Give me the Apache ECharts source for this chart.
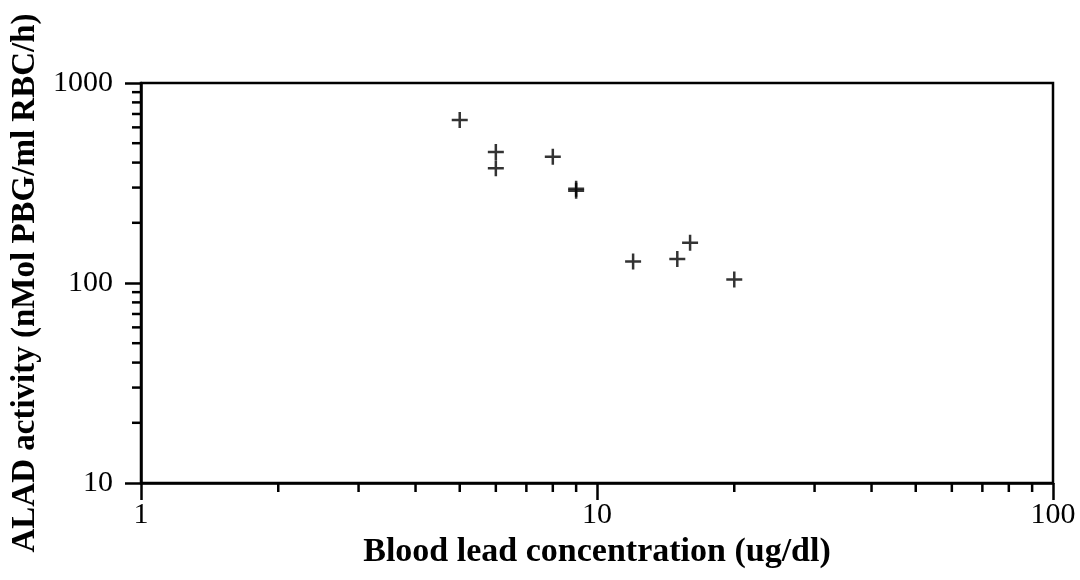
<!DOCTYPE html>
<html>
<head>
<meta charset="utf-8">
<script src="https://cdn.jsdelivr.net/npm/echarts@6/dist/echarts.min.js"></script>
<style>
  html, body { margin: 0; padding: 0; background: #fff; }
  #chart { width: 1080px; height: 580px; }
</style>
</head>
<body>
<div id="chart"></div>
<script>
// blood lead (ug/dl) vs ALAD activity
const leadValues = [5, 6, 6, 8, 9, 9, 12, 15, 16, 20];
const aladValues = [653, 452, 375, 428, 296, 289, 128, 132, 159, 104];

const xMinorTicks = [2, 3, 4, 5, 6, 7, 8, 9, 20, 30, 40, 50, 60, 70, 80, 90];
const yMinorTicks = [20, 30, 40, 50, 60, 70, 80, 90, 200, 300, 400, 500, 600, 700, 800, 900];

const serif = '"Liberation Serif", "DejaVu Serif", serif';
const plusPath = 'path://M6.75,0h2.5v6.75h6.75v2.5h-6.75v6.75h-2.5v-6.75h-6.75v-2.5h6.75z';

const chart = echarts.init(document.getElementById('chart'), null, { renderer: 'canvas' });

const option = {
  animation: false,
  backgroundColor: '#fff',
  grid: {
    left: 141, right: 27, top: 83, bottom: 97,
    show: true, borderColor: '#000', borderWidth: 2.5
  },
  xAxis: {
    type: 'log', logBase: 10, min: 1, max: 100,
    name: 'Blood lead concentration (ug/dl)',
    nameLocation: 'middle', nameGap: 44,
    nameTextStyle: { fontFamily: serif, fontWeight: 'bold', fontSize: 34, color: '#000' },
    axisLine: { lineStyle: { color: '#000', width: 2.5 } },
    axisTick: { inside: false, length: 17, lineStyle: { color: '#000', width: 2.5 } },
    axisLabel: { margin: 17, fontFamily: serif, fontSize: 30, color: '#000', formatter: v => String(v) },
    splitLine: { show: false }
  },
  yAxis: {
    type: 'log', logBase: 10, min: 10, max: 1000,
    name: 'ALAD activity (nMol PBG/ml RBC/h)',
    nameLocation: 'middle', nameGap: 94,
    nameTextStyle: { fontFamily: serif, fontWeight: 'bold', fontSize: 33, color: '#000' },
    axisLine: { lineStyle: { color: '#000', width: 2.5 } },
    axisTick: { inside: false, length: 16, lineStyle: { color: '#000', width: 2.5 } },
    axisLabel: { margin: 28, fontFamily: serif, fontSize: 30, color: '#000', formatter: v => String(v) },
    splitLine: { show: false }
  },
  series: [
    {
      type: 'scatter',
      data: leadValues.map((x, i) => [x, aladValues[i]]),
      symbol: plusPath,
      symbolSize: 16,
      itemStyle: { color: '#000' },
      z: 5
    },
    {
      // minor ticks along the x axis
      type: 'custom',
      coordinateSystem: 'cartesian2d',
      clip: false,
      silent: true,
      data: xMinorTicks.map(v => [v, 10]),
      renderItem: (params, api) => {
        const p = api.coord([api.value(0), api.value(1)]);
        return {
          type: 'line',
          shape: { x1: p[0], y1: p[1], x2: p[0], y2: p[1] + 9 },
          style: { stroke: '#000', lineWidth: 2.5 }
        };
      }
    },
    {
      // minor ticks along the y axis
      type: 'custom',
      coordinateSystem: 'cartesian2d',
      clip: false,
      silent: true,
      data: yMinorTicks.map(v => [1, v]),
      renderItem: (params, api) => {
        const p = api.coord([api.value(0), api.value(1)]);
        return {
          type: 'line',
          shape: { x1: p[0] - 9, y1: p[1], x2: p[0], y2: p[1] },
          style: { stroke: '#000', lineWidth: 2.5 }
        };
      }
    }
  ]
};

chart.setOption(option);
</script>
</body>
</html>
